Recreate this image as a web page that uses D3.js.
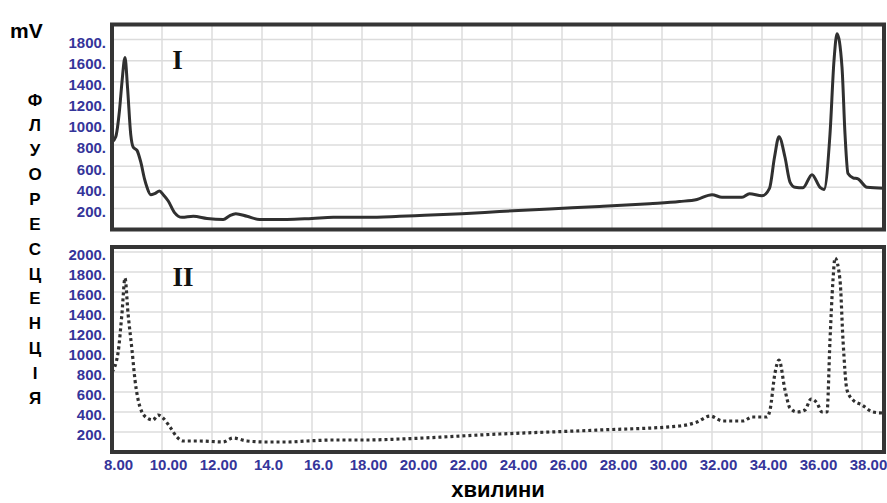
<!DOCTYPE html>
<html>
<head>
<meta charset="utf-8">
<script src="https://cdn.jsdelivr.net/npm/d3@7/dist/d3.min.js"></script>
<style>
  html, body { margin: 0; padding: 0; background: #fff; }
  svg { display: block; }
</style>
</head>
<body>
<svg id="chart" width="887" height="503"></svg>
<script>
// ---- data ----
const xTicks = [8, 10, 12, 14, 16, 18, 20, 22, 24, 26, 28, 30, 32, 34, 36, 38];
const xTickLabels = ["8.00", "10.00", "12.00", "14.0", "16.0", "18.00", "20.00", "22.00", "24.00",
                     "26.00", "28.00", "30.00", "32.00", "34.00", "36.00", "38.00"];
const yTicksI = [200, 400, 600, 800, 1000, 1200, 1400, 1600, 1800];
const yTicksII = [200, 400, 600, 800, 1000, 1200, 1400, 1600, 1800, 2000];
const yAxisLetters = ["Ф", "Л", "У", "О", "Р", "Е", "С", "Ц", "Е", "Н", "Ц", "І", "Я"];

// Trace I (time, mV)
const timeI = [8.00, 8.15, 8.30, 8.40, 8.52, 8.62, 8.75, 8.85, 9.00, 9.15, 9.30, 9.40, 9.55, 9.70, 9.90,
  10.05, 10.25, 10.50, 10.80, 11.25, 11.80, 12.45, 12.70, 12.95, 13.40, 13.90, 15.0, 16.0, 16.85, 18.2,
  19.5, 20.5, 22.0, 23.5, 25.5, 27.5, 29.5, 30.7, 31.4, 32.0, 32.4, 33.2, 33.5, 34.0, 34.3, 34.5, 34.68,
  34.92, 35.12, 35.32, 35.64, 36.0, 36.32, 36.48, 36.72, 36.88, 37.0, 37.2, 37.32, 37.44, 37.64, 37.84,
  38.2, 38.88];
const valueI = [830, 880, 1130, 1400, 1630, 1350, 900, 780, 750, 640, 480, 400, 330, 340, 365,
  330, 270, 160, 115, 125, 105, 95, 130, 150, 125, 95, 95, 105, 115, 115,
  125, 135, 150, 170, 195, 218, 245, 265, 285, 330, 305, 305, 340, 320, 390, 685, 880,
  685, 450, 400, 395, 520, 400, 380, 905, 1600, 1855, 1540, 905, 530, 490, 480,
  400, 390];

// Trace II (time, mV)
const timeII = [8.00, 8.24, 8.40, 8.52, 8.64, 8.80, 8.92, 9.12, 9.40, 9.64, 9.84, 10.04, 10.32, 10.60,
  10.84, 11.52, 12.44, 12.84, 13.40, 14.2, 15.0, 15.8, 16.84, 18.2, 19.52, 23.5, 27.5, 30.7, 31.4, 31.92,
  32.44, 33.24, 33.6, 34.2, 34.32, 34.52, 34.68, 34.92, 35.12, 35.4, 35.72, 35.96, 36.2, 36.4, 36.6,
  36.72, 36.84, 36.92, 37.12, 37.24, 37.4, 37.64, 38.0, 38.44, 38.8];
const valueII = [800, 990, 1390, 1740, 1390, 1020, 720, 450, 340, 320, 370, 340, 250, 150,
  110, 110, 100, 140, 110, 100, 100, 110, 120, 120, 130, 180, 220, 260, 300, 360,
  310, 310, 350, 350, 420, 790, 920, 620, 440, 400, 420, 530, 490, 400, 400,
  1120, 1720, 1940, 1720, 1120, 620, 520, 470, 400, 390];

// ---- drawing ----
const svg = d3.select("#chart");
const tickColor = "#35359a";
const frameColor = "#353535";
const gridColor = "#dcdcdc";

const xLeft = 112, xRight = 884;
const x = d3.scaleLinear().domain([8, 8 + (xRight - xLeft) / 25]).range([xLeft, xRight]);

const panels = [
  { top: 24.5, bottom: 229.5, ticks: yTicksI, t: timeI, v: valueI, yMax: 1943, dash: null, label: "I", labelY: 69 },
  { top: 247, bottom: 452, ticks: yTicksII, t: timeII, v: valueII, yMax: 2050, dash: "3,3", label: "II", labelY: 286 }
];

panels.forEach((p, i) => {
  const y = d3.scaleLinear().domain([0, p.yMax]).range([p.bottom, p.top]);
  const g = svg.append("g");

  // clip
  const clipId = "clip" + i;
  svg.append("clipPath").attr("id", clipId)
    .append("rect").attr("x", xLeft).attr("y", p.top).attr("width", xRight - xLeft).attr("height", p.bottom - p.top);

  // grid
  g.append("g").selectAll("line.h").data(p.ticks).join("line")
    .attr("x1", xLeft).attr("x2", xRight)
    .attr("y1", d => y(d)).attr("y2", d => y(d))
    .attr("stroke", gridColor).attr("stroke-width", 1.5);
  g.append("g").selectAll("line.v").data(xTicks.filter(d => d > 8)).join("line")
    .attr("x1", d => x(d)).attr("x2", d => x(d))
    .attr("y1", p.top).attr("y2", p.bottom)
    .attr("stroke", gridColor).attr("stroke-width", 1.5);

  // y axis labels
  const yAxis = d3.axisLeft(y).tickValues(p.ticks).tickSize(0).tickPadding(0)
    .tickFormat(d => d + ".");
  const ya = g.append("g").attr("transform", `translate(106,0)`).call(yAxis);
  ya.select(".domain").remove();
  ya.selectAll("text")
    .attr("dy", "0.32em").attr("y", 3)
    .attr("fill", tickColor)
    .style("font-family", "Liberation Sans, Arial, sans-serif")
    .style("font-weight", "bold").style("font-size", "15px");

  // trace
  const pts = p.t.map((t, k) => [t, p.v[k]]);
  const line = d3.line().x(d => x(d[0])).y(d => y(d[1])).curve(d3.curveMonotoneX);
  const path = g.append("path").datum(pts)
    .attr("clip-path", `url(#${clipId})`)
    .attr("d", line)
    .attr("fill", "none")
    .attr("stroke", "#303030")
    .attr("stroke-width", 3)
    .attr("stroke-linejoin", "round");
  if (p.dash) path.attr("stroke-dasharray", p.dash).attr("stroke-width", 3.2);

  // frame
  g.append("rect").attr("x", xLeft).attr("y", p.top)
    .attr("width", xRight - xLeft).attr("height", p.bottom - p.top)
    .attr("fill", "none").attr("stroke", frameColor).attr("stroke-width", 4);

  // roman label
  g.append("text").attr("x", p.label === "I" ? 177.5 : 183).attr("y", p.labelY)
    .attr("text-anchor", "middle")
    .style("font-family", "Liberation Serif, Times New Roman, serif")
    .style("font-weight", "bold").style("font-size", "27px")
    .attr("fill", "#111").text(p.label);
});

// x axis labels (under panel II)
const xAxis = d3.axisBottom(x).tickValues(xTicks).tickSize(0).tickPadding(0)
  .tickFormat((d, k) => xTickLabels[k]);
const xa = svg.append("g").attr("transform", "translate(6,459)").call(xAxis);
xa.select(".domain").remove();
xa.selectAll("text")
  .attr("fill", tickColor)
  .style("font-family", "Liberation Sans, Arial, sans-serif")
  .style("font-weight", "bold").style("font-size", "15px");

// mV
svg.append("text").attr("x", 10).attr("y", 38)
  .style("font-family", "Liberation Sans, Arial, sans-serif")
  .style("font-weight", "bold").style("font-size", "21px")
  .attr("fill", "#000").text("mV");

// vertical axis title letters
svg.append("g").selectAll("text").data(yAxisLetters).join("text")
  .attr("x", 35).attr("y", (d, k) => 106 + k * 24.8)
  .attr("text-anchor", "middle")
  .style("font-family", "Liberation Sans, Arial, sans-serif")
  .style("font-weight", "bold").style("font-size", "17px")
  .attr("fill", "#000").text(d => d);

// x axis title
svg.append("text").attr("x", 498).attr("y", 497)
  .attr("text-anchor", "middle")
  .style("font-family", "Liberation Sans, Arial, sans-serif")
  .style("font-weight", "bold").style("font-size", "22px")
  .attr("fill", "#000").text("хвилини");
</script>
</body>
</html>
